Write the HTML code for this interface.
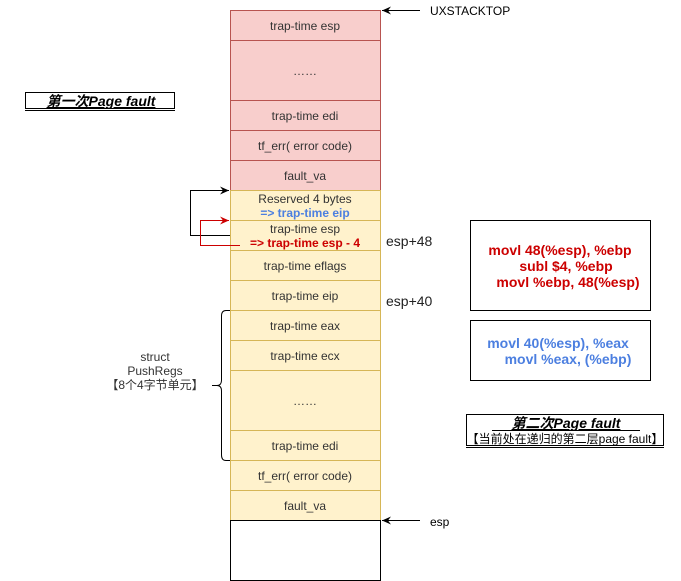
<!DOCTYPE html>
<html><head><meta charset="utf-8"><style>
html,body{margin:0;padding:0;background:#fff;width:681px;height:581px;overflow:hidden}
svg{display:block}
text{font-family:"Liberation Sans","Noto Sans CJK SC",sans-serif}
</style></head><body>
<svg width="681" height="581" viewBox="0 0 681 581">
<defs>
<marker id="ab" markerWidth="10" markerHeight="10" refX="9" refY="5" orient="auto" markerUnits="userSpaceOnUse"><path d="M0,1 L9,5 L0,9 L3,5 Z" fill="#000"/></marker>
<marker id="ar" markerWidth="10" markerHeight="10" refX="9" refY="5" orient="auto" markerUnits="userSpaceOnUse"><path d="M0,1 L9,5 L0,9 L3,5 Z" fill="#c00"/></marker>
</defs>
<g stroke="#b85450" fill="#f8cecc">
<rect x="230.5" y="10.5" width="150" height="30"/>
<rect x="230.5" y="40.5" width="150" height="60"/>
<rect x="230.5" y="100.5" width="150" height="30"/>
<rect x="230.5" y="130.5" width="150" height="30"/>
<rect x="230.5" y="160.5" width="150" height="30"/>
</g>
<g stroke="#d6b656" fill="#fff2cc">
<rect x="230.5" y="190.5" width="150" height="30"/>
<rect x="230.5" y="220.5" width="150" height="30"/>
<rect x="230.5" y="250.5" width="150" height="30"/>
<rect x="230.5" y="280.5" width="150" height="30"/>
<rect x="230.5" y="310.5" width="150" height="30"/>
<rect x="230.5" y="340.5" width="150" height="30"/>
<rect x="230.5" y="370.5" width="150" height="60"/>
<rect x="230.5" y="430.5" width="150" height="30"/>
<rect x="230.5" y="460.5" width="150" height="30"/>
<rect x="230.5" y="490.5" width="150" height="30"/>
</g>
<rect x="230.5" y="520.5" width="150" height="60" fill="#fff" stroke="#000"/>
<g font-size="12" fill="#333" text-anchor="middle">
<text x="305" y="30">trap-time esp</text>
<text x="305" y="75">……</text>
<text x="305" y="120">trap-time edi</text>
<text x="305" y="150">tf_err( error code)</text>
<text x="305" y="180">fault_va</text>
<text x="305" y="203">Reserved 4 bytes</text>
<text x="305" y="217" fill="#4c7fe0" font-weight="bold">=&gt; trap-time eip</text>
<text x="305" y="233">trap-time esp</text>
<text x="305" y="247" fill="#cc0000" font-weight="bold">=&gt; trap-time esp - 4</text>
<text x="305" y="270">trap-time eflags</text>
<text x="305" y="300">trap-time eip</text>
<text x="305" y="330">trap-time eax</text>
<text x="305" y="360">trap-time ecx</text>
<text x="305" y="405">……</text>
<text x="305" y="450">trap-time edi</text>
<text x="305" y="480">tf_err( error code)</text>
<text x="305" y="510">fault_va</text>
</g>
<g font-size="12" fill="#000">
<text x="430" y="15">UXSTACKTOP</text>
<text x="430" y="526">esp</text>
</g>
<g font-size="14" fill="#222">
<text x="386" y="246">esp+48</text>
<text x="386" y="306">esp+40</text>
</g>
<line x1="420" y1="10.5" x2="382" y2="10.5" stroke="#000" marker-end="url(#ab)"/>
<line x1="420" y1="520.5" x2="382" y2="520.5" stroke="#000" marker-end="url(#ab)"/>
<path d="M230,235.5 H190.5 V190.5 H229" fill="none" stroke="#000" marker-end="url(#ab)"/>
<path d="M240,245.5 H200.5 V220.5 H229" fill="none" stroke="#c00" marker-end="url(#ar)"/>
<path d="M230,310.5 H226 Q221.5,310.5 221.5,316 V380 Q221.5,385.5 217,385.5 H212 M217,385.5 Q221.5,385.5 221.5,391 V455 Q221.5,460.5 226,460.5 H230" fill="none" stroke="#000"/>
<g font-size="12" fill="#333" text-anchor="middle">
<text x="155" y="361">struct</text>
<text x="155" y="375">PushRegs</text>
<text x="155" y="389">【8个4字节单元】</text>
</g>
<rect x="470.5" y="220.5" width="180" height="90" fill="#fff" stroke="#000"/>
<g font-size="14" font-weight="bold" fill="#cc0000" text-anchor="middle">
<text x="560" y="255">movl 48(%esp), %ebp</text>
<text x="566" y="271">subl $4, %ebp</text>
<text x="568" y="287">movl %ebp, 48(%esp)</text>
</g>
<rect x="470.5" y="320.5" width="180" height="60" fill="#fff" stroke="#000"/>
<g font-size="14" font-weight="bold" fill="#4c7fe0" text-anchor="middle">
<text x="558" y="348">movl 40(%esp), %eax</text>
<text x="568" y="364">movl %eax, (%ebp)</text>
</g>
<rect x="25.5" y="92.5" width="149" height="16" fill="#fff" stroke="#000"/>
<line x1="25" y1="110.5" x2="175" y2="110.5" stroke="#000"/>
<text x="101" y="106" font-size="14" font-weight="bold" font-style="italic" text-anchor="middle" text-decoration="underline">第一次Page fault</text>
<rect x="466.5" y="414.5" width="197" height="31" fill="#fff" stroke="#000"/>
<line x1="466" y1="447.5" x2="664" y2="447.5" stroke="#000"/>
<text x="566" y="428" font-size="14" font-weight="bold" font-style="italic" text-anchor="middle" text-decoration="underline">第二次Page fault</text>
<line x1="492" y1="430.5" x2="640" y2="430.5" stroke="#000"/>
<text x="565" y="443" font-size="12" text-anchor="middle" fill="#000">【当前处在递归的第二层page fault】</text>
</svg>
</body></html>
